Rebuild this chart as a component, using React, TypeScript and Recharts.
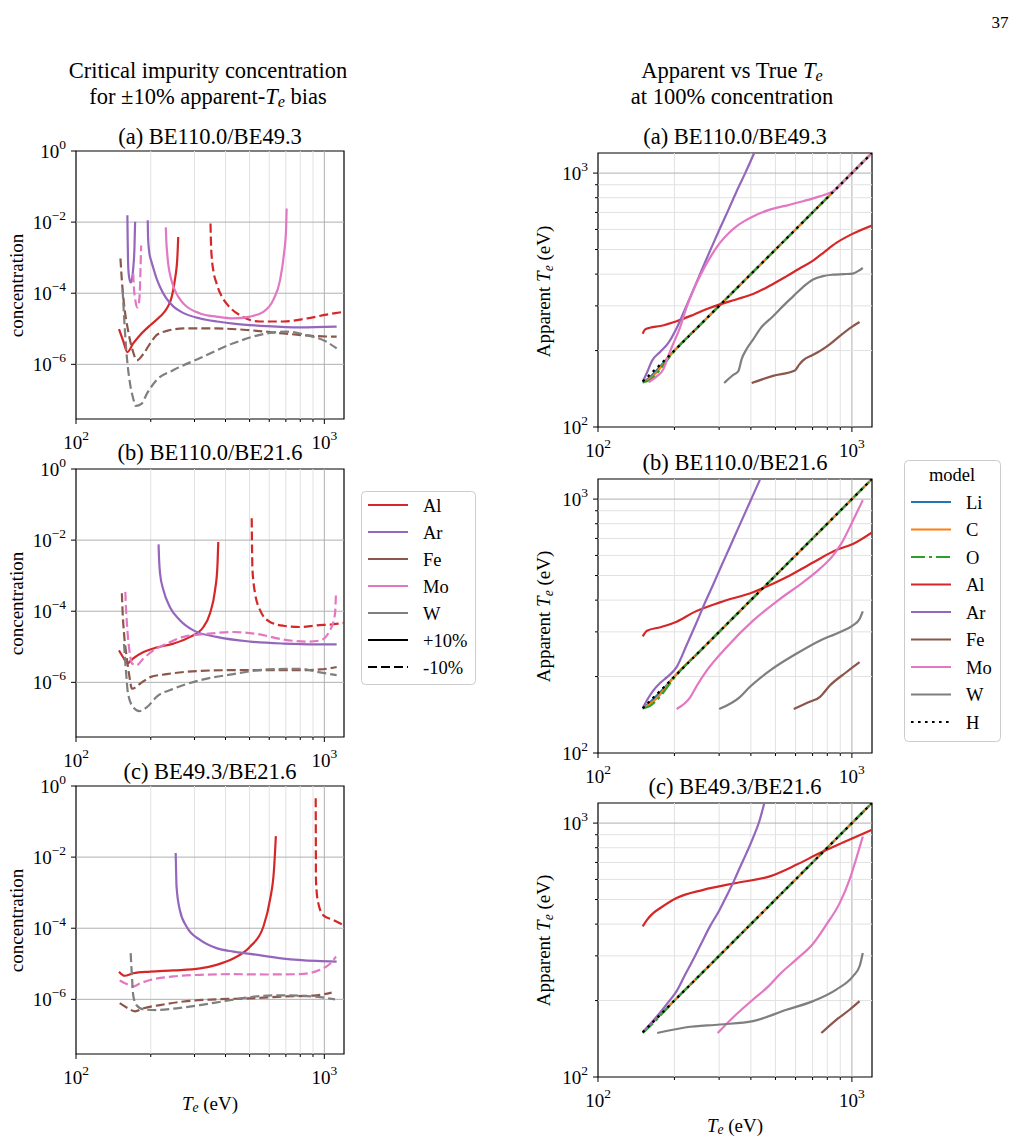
import React from 'react';
import { LineChart, Line, XAxis, YAxis, ReferenceLine, ReferenceArea } from 'recharts';

type Pt = [number, number];

// ---------- left column: critical concentration (T_e, concentration) ----------
// (a) BE110.0/BE49.3
const alHiA: Pt[] = [[149, 9.8e-6], [155, 4.5e-6], [161, 2.2e-6], [170, 3.9e-6], [181, 6.6e-6], [199, 1.26e-5], [218, 2.2e-5], [232, 3.7e-5], [243, 7.9e-5], [250, 2.3e-4], [256, 1.05e-3], [258, 3.8e-3]];
const alLoA: Pt[] = [[348, 9.1e-3], [349, 4e-3], [350, 2e-3], [352, 1.05e-3], [358, 4e-4], [368, 1.9e-4], [385, 8.5e-5], [404, 5.1e-5], [457, 2.4e-5], [551, 1.6e-5], [684, 1.6e-5], [849, 1.95e-5], [1021, 2.5e-5], [1200, 3.0e-5]];
const arHiA1: Pt[] = [[161, 1.56e-2], [161.5, 3e-3], [162, 8e-4], [163, 3.5e-4], [165, 2.2e-4], [166.5, 2e-4], [168, 2.5e-4], [170, 5e-4], [172, 2e-3], [173, 1.02e-2]];
const arHiA2: Pt[] = [[194.5, 1.12e-2], [195, 4e-3], [197, 1.5e-3], [201, 8e-4], [205, 5e-4], [211, 2.6e-4], [218, 1.5e-4], [230, 7.5e-5], [247, 4.2e-5], [270, 2.8e-5], [316, 1.95e-5], [370, 1.6e-5], [430, 1.4e-5], [586, 1.19e-5], [798, 1.1e-5], [1121, 1.15e-5]];
const feLoA: Pt[] = [[151, 9.5e-4], [153, 2.3e-4], [156, 5.1e-5], [162, 9.1e-6], [169, 2.5e-6], [176, 1.3e-6], [187, 2.0e-6], [199, 3.9e-6], [211, 6.6e-6], [232, 8.7e-6], [271, 1.02e-5], [368, 1.02e-5], [502, 9.1e-6], [684, 7.4e-6], [931, 6.2e-6], [1121, 6.0e-6]];
const moHiA: Pt[] = [[230, 7.1e-3], [231, 3e-3], [233, 1.3e-3], [235, 6.9e-4], [240, 3e-4], [247, 1.5e-4], [258, 8e-5], [271, 5.1e-5], [316, 2.7e-5], [368, 2.2e-5], [430, 1.95e-5], [502, 2.2e-5], [568, 3.0e-5], [623, 6.5e-5], [663, 2.3e-4], [688, 1.3e-3], [701, 5.9e-3], [705, 2.4e-2]];
const moLoA: Pt[] = [[170, 3.6e-4], [171, 1.5e-4], [173, 7e-5], [175, 4.5e-5], [177, 4e-5], [179, 5e-5], [181, 1.5e-4], [182, 6e-4], [183, 2.2e-3]];
const wLoA: Pt[] = [[154, 1.3e-4], [156, 2.5e-5], [159, 3.1e-6], [165, 2.9e-7], [170, 1.1e-7], [174, 6.8e-8], [184, 7.9e-8], [193, 1.5e-7], [211, 3.6e-7], [247, 6.9e-7], [316, 1.5e-6], [430, 3.9e-6], [586, 7.4e-6], [705, 8.3e-6], [849, 6.6e-6], [1021, 4.3e-6], [1121, 2.8e-6]];

// (b) BE110.0/BE21.6
const alHiB: Pt[] = [[149, 7.9e-6], [155, 5e-6], [161, 3.4e-6], [170, 4.7e-6], [187, 7.1e-6], [211, 9.5e-6], [247, 1.23e-5], [288, 1.9e-5], [326, 3.6e-5], [346, 8.5e-5], [363, 3.9e-4], [371, 1.8e-3], [374, 8.9e-3]];
const alLoB: Pt[] = [[510, 4.1e-2], [511, 1e-2], [512, 4e-3], [513, 1.8e-3], [518, 7e-4], [526, 3.2e-4], [551, 1.07e-4], [604, 5e-5], [684, 3.9e-5], [798, 3.6e-5], [931, 4e-5], [1087, 4.3e-5], [1200, 4.7e-5]];
const arHiB: Pt[] = [[215, 7.6e-3], [216, 3e-3], [218, 1.15e-3], [225, 3.9e-4], [239, 1.3e-4], [262, 5.6e-5], [297, 2.9e-5], [368, 1.9e-5], [502, 1.4e-5], [684, 1.23e-5], [931, 1.17e-5], [1121, 1.17e-5]];
const feLoB: Pt[] = [[153, 3.2e-4], [154, 1e-4], [156, 2.5e-5], [160, 5.1e-6], [164, 1.5e-6], [168, 6.6e-7], [181, 9.1e-7], [199, 1.4e-6], [232, 1.7e-6], [316, 2.1e-6], [430, 2.2e-6], [586, 2.2e-6], [798, 2.2e-6], [961, 2.3e-6], [1121, 2.7e-6]];
const moLoB: Pt[] = [[158, 3.5e-4], [159, 1.2e-4], [161, 3e-5], [164, 8e-6], [168, 3.4e-6], [175, 3e-6], [187, 4.7e-6], [205, 7.9e-6], [232, 1.23e-5], [271, 1.9e-5], [336, 2.3e-5], [430, 2.6e-5], [534, 2.3e-5], [684, 1.6e-5], [849, 1.4e-5], [961, 1.5e-5], [1054, 2.9e-5], [1104, 8.5e-5], [1114, 3.2e-4]];
const wLoB: Pt[] = [[156, 1.2e-5], [159, 2e-6], [162, 4.8e-7], [170, 2e-7], [180, 1.55e-7], [193, 2e-7], [211, 3.9e-7], [247, 6.6e-7], [316, 1.15e-6], [430, 1.7e-6], [586, 2.3e-6], [798, 2.4e-6], [961, 1.9e-6], [1121, 1.6e-6]];

// (c) BE49.3/BE21.6
const alHiC: Pt[] = [[149, 6e-6], [157, 4.6e-6], [170, 5.4e-6], [199, 6e-6], [247, 6.5e-6], [316, 7.4e-6], [368, 9.3e-6], [430, 1.4e-5], [502, 3e-5], [568, 1.1e-4], [604, 6.2e-4], [627, 4.4e-3], [638, 3.9e-2]];
const alLoC: Pt[] = [[923, 0.45], [924, 5e-2], [925, 2.8e-3], [930, 1.2e-3], [946, 5e-4], [991, 2.3e-4], [1087, 1.7e-4], [1200, 1.2e-4]];
const arHiC: Pt[] = [[252, 1.3e-2], [253, 4e-3], [254, 1.5e-3], [262, 3.2e-4], [279, 1.1e-4], [316, 4.7e-5], [368, 2.75e-5], [430, 2.2e-5], [502, 1.9e-5], [684, 1.4e-5], [931, 1.2e-5], [1121, 1.15e-5]];
const feLoC: Pt[] = [[150, 7.8e-7], [162, 5.6e-7], [173, 4.6e-7], [187, 5.6e-7], [218, 6.9e-7], [271, 8.7e-7], [368, 1e-6], [502, 1.07e-6], [684, 1.2e-6], [931, 1.3e-6], [1070, 1.55e-6]];
const moLoC: Pt[] = [[150, 3.4e-6], [160, 2.7e-6], [170, 2.3e-6], [181, 2.8e-6], [199, 3.5e-6], [247, 4.4e-6], [316, 4.9e-6], [430, 5.1e-6], [586, 5e-6], [798, 5.1e-6], [961, 6.8e-6], [1054, 1.0e-5], [1114, 1.6e-5]];
const wLoC: Pt[] = [[166, 2e-5], [168, 4.4e-6], [170, 1.3e-6], [175, 6.9e-7], [187, 5.2e-7], [211, 5e-7], [254, 5.6e-7], [316, 6.9e-7], [404, 9.1e-7], [502, 1.15e-6], [623, 1.3e-6], [798, 1.26e-6], [961, 1.15e-6], [1104, 1e-6]];

// ---------- right column: apparent vs true T_e ----------
const liA: Pt[] = [[150, 150], [160, 157], [170, 167], [180, 178], [190, 189], [200, 200], [250, 250], [300, 300], [400, 400], [500, 500], [600, 600], [800, 800], [1000, 1000], [1200, 1200]];
const cA: Pt[] = [[150, 150], [160, 155], [170, 164], [180, 176], [190, 189], [200, 200], [250, 250], [300, 300], [400, 400], [500, 500], [600, 600], [800, 800], [1000, 1000], [1200, 1200]];
const oA: Pt[] = [[150, 150], [160, 153], [170, 162], [180, 174], [190, 187], [200, 199], [250, 250], [300, 300], [400, 400], [500, 500], [600, 600], [800, 800], [1000, 1000], [1200, 1200]];
const alA: Pt[] = [[150, 233], [153, 242], [160, 246], [176, 250], [204, 261], [238, 277], [270, 292], [302, 304], [350, 318], [408, 334], [475, 360], [552, 392], [620, 420], [703, 452], [780, 490], [868, 531], [1000, 575], [1200, 622]];
const arA: Pt[] = [[150, 151], [156, 164], [163, 182], [176, 198], [189, 214], [204, 245], [223, 300], [240, 355], [260, 430], [280, 510], [302, 605], [325, 710], [351, 845], [380, 1000], [412, 1198]];
const feA: Pt[] = [[403, 149], [489, 159], [596, 167], [620, 176], [642, 183], [700, 192], [747, 199], [820, 212], [895, 228], [1000, 248], [1072, 259]];
const moA: Pt[] = [[158, 150], [170, 158], [181, 169], [189, 190], [198, 213], [210, 245], [223, 295], [240, 355], [260, 417], [280, 475], [302, 531], [330, 585], [351, 617], [380, 650], [408, 675], [475, 718], [552, 745], [642, 775], [747, 810], [842, 847], [1009, 1012], [1100, 1100], [1200, 1200]];
const wA: Pt[] = [[314, 149], [340, 160], [357, 166], [368, 185], [385, 203], [408, 221], [440, 247], [489, 273], [540, 302], [587, 327], [640, 355], [703, 381], [770, 393], [842, 398], [930, 400], [1009, 402], [1056, 411], [1104, 423]];
const hA: Pt[] = [[150, 151], [200, 200], [250, 250], [300, 300], [400, 400], [500, 500], [600, 600], [800, 800], [1000, 1000], [1200, 1200]];

const liB: Pt[] = [[150, 150], [160, 158], [170, 168], [180, 178], [190, 189], [200, 200], [250, 250], [300, 300], [400, 400], [500, 500], [600, 600], [800, 800], [1000, 1000], [1200, 1200]];
const cB: Pt[] = [[150, 150], [160, 156], [170, 164], [180, 175], [190, 188], [200, 200], [250, 250], [300, 300], [400, 400], [500, 500], [600, 600], [800, 800], [1000, 1000], [1200, 1200]];
const oB: Pt[] = [[150, 150], [160, 153], [170, 161], [180, 172], [190, 185], [200, 198], [250, 250], [300, 300], [400, 400], [500, 500], [600, 600], [800, 800], [1000, 1000], [1200, 1200]];
const alB: Pt[] = [[150, 288], [156, 303], [176, 313], [204, 329], [238, 358], [302, 392], [408, 430], [552, 492], [703, 563], [868, 630], [1009, 666], [1200, 740]];
const arB: Pt[] = [[150, 150], [158, 165], [165, 176], [176, 189], [187, 199], [204, 218], [223, 265], [243, 322], [263, 388], [284, 460], [306, 545], [330, 645], [355, 760], [380, 885], [405, 1020], [434, 1190]];
const feB: Pt[] = [[590, 149], [682, 159], [747, 166], [817, 184], [950, 208], [1072, 228]];
const moB: Pt[] = [[204, 149], [231, 166], [245, 184], [268, 211], [321, 261], [408, 332], [520, 404], [642, 470], [747, 531], [842, 599], [907, 666], [1009, 822], [1104, 991]];
const wB: Pt[] = [[300, 149], [362, 166], [396, 182], [475, 211], [604, 246], [747, 277], [895, 299], [1009, 318], [1072, 337], [1104, 361]];
const hB: Pt[] = [[150, 150], [200, 200], [250, 250], [300, 300], [400, 400], [500, 500], [600, 600], [800, 800], [1000, 1000], [1200, 1200]];

const liC: Pt[] = [[150, 150], [200, 200], [250, 250], [300, 300], [400, 400], [500, 500], [600, 600], [800, 800], [1000, 1000], [1200, 1200]];
const cC: Pt[] = [[150, 150], [200, 200], [250, 250], [300, 300], [400, 400], [500, 500], [600, 600], [800, 800], [1000, 1000], [1200, 1200]];
const oC: Pt[] = [[150, 149], [160, 158], [180, 179], [200, 200], [250, 250], [300, 300], [400, 400], [500, 500], [600, 600], [800, 800], [1000, 1000], [1200, 1200]];
const alC: Pt[] = [[150, 392], [156, 416], [165, 442], [176, 463], [204, 507], [260, 546], [351, 581], [475, 617], [604, 685], [747, 762], [922, 839], [1200, 942]];
const arC: Pt[] = [[150, 150], [160, 161], [176, 180], [190, 198], [204, 218], [220, 252], [238, 292], [256, 338], [276, 392], [300, 452], [321, 516], [346, 603], [364, 676], [384, 760], [408, 875], [431, 1010], [452, 1199]];
const feC: Pt[] = [[758, 149], [868, 168], [979, 184], [1072, 199]];
const moC: Pt[] = [[296, 149], [341, 172], [408, 202], [470, 228], [520, 254], [603, 290], [703, 335], [793, 398], [895, 484], [979, 599], [1056, 762], [1104, 886]];
const wC: Pt[] = [[171, 149], [223, 157], [302, 161], [408, 166], [552, 184], [703, 199], [868, 221], [1009, 249], [1072, 273], [1104, 308]];
const hC: Pt[] = [[150, 150], [200, 200], [250, 250], [300, 300], [400, 400], [500, 500], [600, 600], [800, 800], [1000, 1000], [1200, 1200]];

const xTicks = [100, 200, 300, 400, 500, 600, 700, 800, 900, 1000];
const concTicks = [1e-6, 1e-4, 1e-2, 1];
const teTicks = [100, 200, 300, 400, 500, 600, 700, 800, 900, 1000];
const minorGrid = [200, 300, 400, 500, 600, 700, 800, 900];

// ---------- styles ----------
const FONT = "'Liberation Serif', 'Times New Roman', serif";
const COL = {
  Li: '#1f77b4', C: '#ff7f0e', O: '#2ca02c', Al: '#d62728', Ar: '#9467bd',
  Fe: '#8c564b', Mo: '#e377c2', W: '#7f7f7f', H: '#000000',
};
const DASH = '9 4';
const DOT = '2.6 4.4';
const DASHDOT = '14 4 3 4';
const LW = 2.2;
const MINOR = '#e2e2e2';
const MAJOR = '#b0b0b0';

type Series = { key: string; pts: Pt[]; color: string; dash?: string };

const toRows = (pts: Pt[]) => pts.map(([x, y]) => ({ x, y }));

const isDecade = (v: number) => {
  const l = Math.log10(v);
  return Math.abs(l - Math.round(l)) < 1e-6;
};

function Pow({ x, y, v, anchor }: { x: number; y: number; v: number; anchor: 'middle' | 'end' }) {
  const e = Math.round(Math.log10(v));
  const exp = e < 0 ? '\u2212' + -e : String(e);
  return (
    <text x={x} y={y} textAnchor={anchor} fontFamily={FONT} fontSize={19} fill="#000">
      10<tspan dy={-9} fontSize={13.5}>{exp}</tspan>
    </text>
  );
}

const renderXTick = (p: any) => {
  const v = p.payload.value;
  const major = isDecade(v);
  const len = major ? 5 : 3;
  return (
    <g>
      <line x1={p.x} y1={p.y} x2={p.x} y2={p.y + len} stroke="#000" strokeWidth={1} />
      {major && <Pow x={p.x} y={p.y + 30} v={v} anchor="middle" />}
    </g>
  );
};

const renderYTick = (p: any) => {
  const v = p.payload.value;
  const major = isDecade(v);
  const len = major ? 5 : 3;
  return (
    <g>
      <line x1={p.x - len} y1={p.y} x2={p.x} y2={p.y} stroke="#000" strokeWidth={1} />
      {major && <Pow x={p.x - 10} y={p.y + 7} v={v} anchor="end" />}
    </g>
  );
};

function Panel({ left, top, size, yDomain, yTicks, yMinor, yMajor, series }: {
  left: number; top: number; size: number; yDomain: [number, number];
  yTicks: number[]; yMinor: number[]; yMajor: number[]; series: Series[];
}) {
  const padL = 70, padT = 25, padR = 10, padB = 50;
  return (
    <div style={{ position: 'absolute', left: left - padL, top: top - padT }}>
      <LineChart width={size + padL + padR} height={size + padT + padB}
        margin={{ top: padT, right: padR, bottom: 0, left: 0 }}>
        <XAxis type="number" dataKey="x" scale="log" domain={[100, 1200]} allowDataOverflow
          ticks={xTicks} interval={0} tickSize={0} tickMargin={0} axisLine={false} tickLine={false}
          height={padB} tick={renderXTick} />
        <YAxis type="number" scale="log" domain={yDomain} allowDataOverflow
          ticks={yTicks} interval={0} tickSize={0} tickMargin={0} axisLine={false} tickLine={false}
          width={padL} tick={renderYTick} />
        {minorGrid.map((v) => (
          <ReferenceLine key={'gx' + v} x={v} stroke={MINOR} strokeWidth={1} />
        ))}
        <ReferenceLine x={1000} stroke={MAJOR} strokeWidth={1} />
        {yMinor.map((v) => (
          <ReferenceLine key={'gy' + v} y={v} stroke={MINOR} strokeWidth={1} />
        ))}
        {yMajor.map((v) => (
          <ReferenceLine key={'gY' + v} y={v} stroke={MAJOR} strokeWidth={1} />
        ))}
        {series.map((s) => (
          <Line key={s.key} data={toRows(s.pts)} dataKey="y" type="monotone" stroke={s.color}
            strokeWidth={LW} strokeDasharray={s.dash} dot={false} activeDot={false}
            isAnimationActive={false} />
        ))}
        <ReferenceArea x1={100} x2={1200} y1={yDomain[0]} y2={yDomain[1]} ifOverflow="visible"
          fill="none" fillOpacity={0} stroke="#000" strokeWidth={1.2} />
      </LineChart>
    </div>
  );
}

const CONC: [number, number] = [2.9e-8, 1];
const TE: [number, number] = [100, 1200];

const leftA: Series[] = [
  { key: 'alHi', pts: alHiA, color: COL.Al }, { key: 'alLo', pts: alLoA, color: COL.Al, dash: DASH },
  { key: 'arHi1', pts: arHiA1, color: COL.Ar }, { key: 'arHi2', pts: arHiA2, color: COL.Ar },
  { key: 'feLo', pts: feLoA, color: COL.Fe, dash: DASH },
  { key: 'moHi', pts: moHiA, color: COL.Mo }, { key: 'moLo', pts: moLoA, color: COL.Mo, dash: DASH },
  { key: 'wLo', pts: wLoA, color: COL.W, dash: DASH },
];
const leftB: Series[] = [
  { key: 'alHi', pts: alHiB, color: COL.Al }, { key: 'alLo', pts: alLoB, color: COL.Al, dash: DASH },
  { key: 'arHi', pts: arHiB, color: COL.Ar },
  { key: 'feLo', pts: feLoB, color: COL.Fe, dash: DASH },
  { key: 'moLo', pts: moLoB, color: COL.Mo, dash: DASH },
  { key: 'wLo', pts: wLoB, color: COL.W, dash: DASH },
];
const leftC: Series[] = [
  { key: 'alHi', pts: alHiC, color: COL.Al }, { key: 'alLo', pts: alLoC, color: COL.Al, dash: DASH },
  { key: 'arHi', pts: arHiC, color: COL.Ar },
  { key: 'feLo', pts: feLoC, color: COL.Fe, dash: DASH },
  { key: 'moLo', pts: moLoC, color: COL.Mo, dash: DASH },
  { key: 'wLo', pts: wLoC, color: COL.W, dash: DASH },
];
const model = (li: Pt[], c: Pt[], o: Pt[], al: Pt[], ar: Pt[], fe: Pt[], mo: Pt[], w: Pt[], h: Pt[]): Series[] => [
  { key: 'li', pts: li, color: COL.Li }, { key: 'c', pts: c, color: COL.C },
  { key: 'o', pts: o, color: COL.O, dash: DASHDOT }, { key: 'al', pts: al, color: COL.Al },
  { key: 'ar', pts: ar, color: COL.Ar }, { key: 'fe', pts: fe, color: COL.Fe },
  { key: 'mo', pts: mo, color: COL.Mo }, { key: 'w', pts: w, color: COL.W },
  { key: 'h', pts: h, color: COL.H, dash: DOT },
];

// italic T with a small lowered e
const Te = () => (
  <span><i>T</i><i style={{ fontSize: '0.72em', position: 'relative', top: '0.2em', lineHeight: 0 }}>e</i></span>
);

function Txt({ cx, cy, size, children, rotate }: { cx: number; cy: number; size: number; children: React.ReactNode; rotate?: boolean }) {
  const h = size;
  return (
    <div style={{
      position: 'absolute', left: cx - 180, top: cy - h / 2, width: 360, height: h,
      lineHeight: `${h}px`, fontSize: size, fontFamily: FONT, textAlign: 'center',
      whiteSpace: 'nowrap', transform: rotate ? 'rotate(-90deg)' : undefined,
    }}>{children}</div>
  );
}

const leftLegend = [
  { label: 'Al', color: COL.Al }, { label: 'Ar', color: COL.Ar }, { label: 'Fe', color: COL.Fe },
  { label: 'Mo', color: COL.Mo }, { label: 'W', color: COL.W },
  { label: '+10%', color: '#000' }, { label: '-10%', color: '#000', dash: DASH },
];
const rightLegend = [
  { label: 'Li', color: COL.Li }, { label: 'C', color: COL.C }, { label: 'O', color: COL.O, dash: DASHDOT },
  { label: 'Al', color: COL.Al }, { label: 'Ar', color: COL.Ar }, { label: 'Fe', color: COL.Fe },
  { label: 'Mo', color: COL.Mo }, { label: 'W', color: COL.W }, { label: 'H', color: '#000', dash: DOT },
];

function LegendBox({ left, top, w, h, title, first, step, items }: {
  left: number; top: number; w: number; h: number; title?: string; first: number; step: number;
  items: { label: string; color: string; dash?: string }[];
}) {
  return (
    <svg style={{ position: 'absolute', left, top }} width={w + 2} height={h + 2}>
      <rect x={0.5} y={0.5} width={w} height={h} rx={4} fill="#fff" stroke="#cccccc" />
      {title && (
        <text x={w / 2} y={first - step + 6.5} textAnchor="middle" fontFamily={FONT} fontSize={18.5}>{title}</text>
      )}
      {items.map((it, i) => {
        const y = first + i * step;
        return (
          <g key={it.label}>
            <line x1={7} x2={47} y1={y} y2={y} stroke={it.color} strokeWidth={LW} strokeDasharray={it.dash} />
            <text x={62} y={y + 6.5} fontFamily={FONT} fontSize={18.5}>{it.label}</text>
          </g>
        );
      })}
    </svg>
  );
}

export default function App() {
  const L = 76, R = 598, SL = 268, SR = 274;
  return (
    <div style={{ position: 'absolute', left: 0, top: 0, width: 1017, height: 1143, background: '#fff', fontFamily: FONT }}>
      <Txt cx={1000} cy={22} size={17}>37</Txt>

      <Txt cx={208} cy={71} size={22.5}>Critical impurity concentration</Txt>
      <Txt cx={208} cy={97} size={22.5}>for ±10% apparent-<Te /> bias</Txt>
      <Txt cx={732} cy={71} size={22.5}>Apparent vs True <Te /></Txt>
      <Txt cx={732} cy={97} size={22.5}>at 100% concentration</Txt>

      <Panel left={L} top={151} size={SL} yDomain={CONC} yTicks={concTicks} yMinor={[]} yMajor={[1e-6, 1e-4, 1e-2]} series={leftA} />
      <Panel left={L} top={469} size={SL} yDomain={CONC} yTicks={concTicks} yMinor={[]} yMajor={[1e-6, 1e-4, 1e-2]} series={leftB} />
      <Panel left={L} top={786} size={SL} yDomain={CONC} yTicks={concTicks} yMinor={[]} yMajor={[1e-6, 1e-4, 1e-2]} series={leftC} />

      <Panel left={R} top={153} size={SR} yDomain={TE} yTicks={teTicks} yMinor={minorGrid} yMajor={[1000]}
        series={model(liA, cA, oA, alA, arA, feA, moA, wA, hA)} />
      <Panel left={R} top={479} size={SR} yDomain={TE} yTicks={teTicks} yMinor={minorGrid} yMajor={[1000]}
        series={model(liB, cB, oB, alB, arB, feB, moB, wB, hB)} />
      <Panel left={R} top={803} size={SR} yDomain={TE} yTicks={teTicks} yMinor={minorGrid} yMajor={[1000]}
        series={model(liC, cC, oC, alC, arC, feC, moC, wC, hC)} />

      <Txt cx={210} cy={137} size={22.5}>(a) BE110.0/BE49.3</Txt>
      <Txt cx={210} cy={453} size={22.5}>(b) BE110.0/BE21.6</Txt>
      <Txt cx={210} cy={772} size={22.5}>(c) BE49.3/BE21.6</Txt>
      <Txt cx={735} cy={137} size={22.5}>(a) BE110.0/BE49.3</Txt>
      <Txt cx={735} cy={463} size={22.5}>(b) BE110.0/BE21.6</Txt>
      <Txt cx={735} cy={787} size={22.5}>(c) BE49.3/BE21.6</Txt>

      <Txt cx={16} cy={285} size={19} rotate>concentration</Txt>
      <Txt cx={16} cy={603} size={19} rotate>concentration</Txt>
      <Txt cx={16} cy={920} size={19} rotate>concentration</Txt>
      <Txt cx={543} cy={291} size={19} rotate>Apparent <Te /> (eV)</Txt>
      <Txt cx={543} cy={616} size={19} rotate>Apparent <Te /> (eV)</Txt>
      <Txt cx={543} cy={940} size={19} rotate>Apparent <Te /> (eV)</Txt>
      <Txt cx={210} cy={1103} size={19}><Te /> (eV)</Txt>
      <Txt cx={735} cy={1125} size={19}><Te /> (eV)</Txt>

      <LegendBox left={361} top={491} w={114} h={193} first={14} step={27} items={leftLegend} />
      <LegendBox left={904} top={460} w={96} h={281} title="model" first={42} step={27.5} items={rightLegend} />
    </div>
  );
}
